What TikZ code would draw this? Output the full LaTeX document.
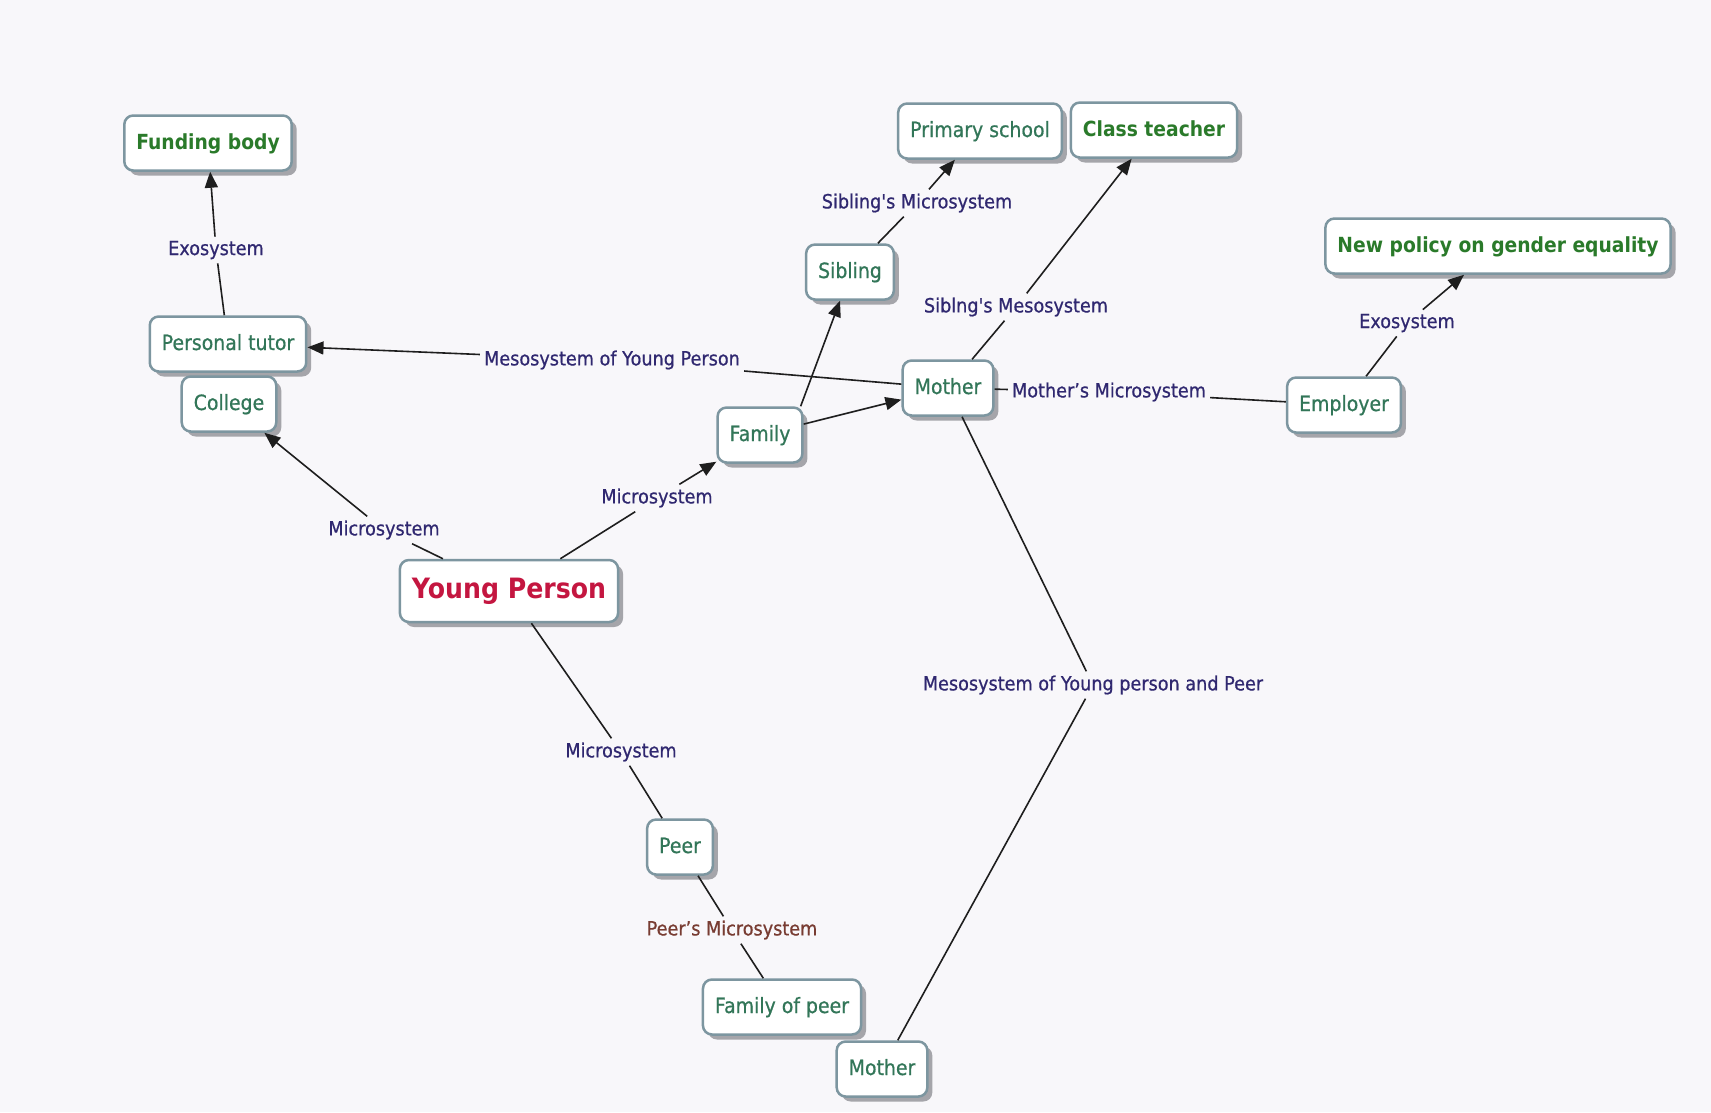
\documentclass[tikz,border=0pt]{standalone}
\usepackage{fontspec}
\setmainfont{DejaVu Sans}[FakeStretch=0.9]
\newfontfamily\medfont{DejaVu Sans}[FakeStretch=0.9,FakeBold=0.7]
\usetikzlibrary{shadows,arrows.meta}
\definecolor{bgc}{RGB}{248,247,250}
\definecolor{boxc}{RGB}{125,150,160}
\definecolor{shadowc}{RGB}{165,165,170}
\definecolor{nodec}{RGB}{50,118,88}
\definecolor{boldc}{RGB}{42,122,42}
\definecolor{ypc}{RGB}{196,22,64}
\definecolor{lblc}{RGB}{48,40,112}
\definecolor{brownc}{RGB}{120,60,50}
\definecolor{linec}{RGB}{30,30,30}
\begin{document}
\begin{tikzpicture}[x=1pt,y=-1pt,
  box/.style={draw=boxc, line width=2.5pt, rounded corners=9pt, fill=white,
    inner xsep=12pt, inner ysep=0pt, minimum height=55pt,
    text height=16pt, text depth=4pt,
    font=\medfont\fontsize{21}{25}\selectfont, text=nodec,
    drop shadow={shadow xshift=5pt,shadow yshift=-5pt,fill=shadowc,opacity=1}},
  bbox/.style={box, text=boldc, font=\fontsize{20.8}{25}\selectfont\bfseries},
  ypbox/.style={box, text=ypc, minimum height=62pt, text height=20pt, text depth=6pt,
    font=\fontsize{28}{33}\selectfont\bfseries},
  lbl/.style={font=\medfont\fontsize{19.6}{23}\selectfont, text=lblc, inner sep=4pt},
  con/.style={draw=linec, line width=1.6pt},
  arr/.style={con, -{Triangle[length=16pt,width=13pt]}}]
\fill[bgc] (0,0) rectangle (1711,1112);
\useasboundingbox (0,0) rectangle (1711,1112);

% concept nodes
\node[bbox] (fund) at (208,143) {Funding body};
\node[box] (tutor) at (228,344) {Personal tutor};
\node[box] (college) at (229,404) {College};
\node[ypbox] (yp) at (509,591) {Young Person};
\node[box] (family) at (760,435) {Family};
\node[box] (sibling) at (850,272) {Sibling};
\node[box] (primary) at (980,131) {Primary school};
\node[bbox] (teacher) at (1154,130) {Class teacher};
\node[box] (mother) at (948,388) {Mother};
\node[box] (employer) at (1344,405) {Employer};
\node[bbox] (policy) at (1498,246) {New policy on gender equality};
\node[box] (peer) at (680,847) {Peer};
\node[box] (fop) at (782,1007) {Family of peer};
\node[box] (mother2) at (882,1069) {Mother};

% link labels
\node[lbl] (l1) at (216,250) {Exosystem};
\node[lbl] (l2) at (384,530) {Microsystem};
\node[lbl] (l3) at (657,498) {Microsystem};
\node[lbl] (l4) at (621,752) {Microsystem};
\node[lbl] (l5) at (612,360) {Mesosystem of Young Person};
\node[lbl] (l6) at (917,203) {Sibling's Microsystem};
\node[lbl] (l7) at (1016,307) {Siblng's Mesosystem};
\node[lbl] (l8) at (1109,392) {Mother’s Microsystem};
\node[lbl] (l9) at (1407,323) {Exosystem};
\node[lbl] (l10) at (1093,685) {Mesosystem of Young person and Peer};
\node[lbl, text=brownc] (l11) at (732,930) {Peer’s Microsystem};

% connectors
\draw[con] (tutor) -- (l1); \draw[arr] (l1) -- (fund);
\draw[con] (yp) -- (l2); \draw[arr] (l2) -- (college);
\draw[con] (yp) -- (l3); \draw[arr] (l3) -- (family);
\draw[con] (yp) -- (l4); \draw[con] (l4) -- (peer);
\draw[con] (peer) -- (l11); \draw[con] (l11) -- (fop);
\draw[arr] ([xshift=-3pt]family.north east) -- ([xshift=-10pt]sibling.south);
\draw[arr] (family) -- (mother);
\draw[con] (sibling) -- (l6); \draw[arr] (l6) -- (primary);
\draw[con] (mother) -- (l7); \draw[arr] (l7) -- (teacher);
\draw[con] (mother) -- (l5); \draw[arr] (l5) -- (tutor);
\draw[con] (mother) -- (l8); \draw[con] (l8) -- (employer);
\draw[con] (employer) -- (l9); \draw[arr] (l9) -- (policy);
\draw[con] (mother) -- (l10); \draw[con] (l10) -- (mother2);
\end{tikzpicture}
\end{document}
